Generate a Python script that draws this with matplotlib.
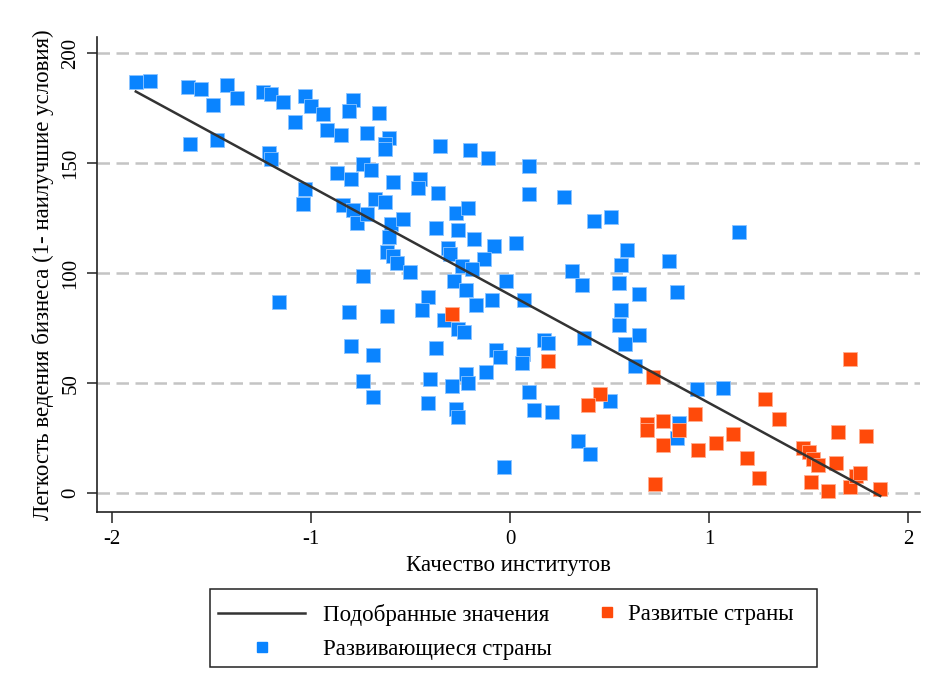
import numpy as np
import matplotlib.pyplot as plt
from matplotlib.patches import Rectangle

plt.rcParams['font.family'] = ['Liberation Serif', 'DejaVu Serif']

# Качество институтов / легкость ведения бизнеса: развивающиеся страны
dev_x = [-1.88, -1.81, -1.62, -1.55, -1.49, -1.42, -1.37, -1.61, -1.47, -1.24,
         -1.20, -1.14, -1.08, -1.21, -1.20, -1.16, -1.03, -1.00, -0.94, -1.03,
         -1.04, -0.92, -0.85, -0.79, -0.81, -0.72, -0.66, -0.61, -0.63, -0.63,
         -0.35, -0.20, -0.11, -0.87, -0.80, -0.74, -0.70, -0.59, -0.45, -0.46,
         -0.36, -0.84, -0.79, -0.77, -0.72, -0.68, -0.63, -0.60, -0.61, -0.54,
         -0.37, -0.27, -0.21, -0.26, -0.18, -0.08, -0.31, -0.30, -0.13, -0.62,
         -0.59, -0.57, -0.24, -0.19, -0.50, -0.74, 0.03, 0.095, 0.095, 0.27,
         0.42, 0.51, 0.59, 0.80, 0.56, 0.31, 1.15, -0.28, -0.22, -0.02,
         -0.41, -0.44, -0.17, -0.09, -0.33, -0.81, -0.62, -0.26, -0.23, -0.80,
         -0.69, -0.37, -0.07, -0.05, -0.12, -0.22, -0.21, -0.74, -0.40, -0.29,
         -0.69, -0.41, -0.27, -0.26, -0.03, 0.36, 0.55, 0.65, 0.84, 0.07,
         0.56, 0.55, 0.65, 0.58, 0.37, 0.17, 0.19, 0.065, 0.06, 0.63,
         0.94, 0.095, 0.12, 0.21, 0.50, 0.85, 0.84, 0.34, 0.40, 1.07]
dev_y = [186.8, 187.3, 184.6, 183.7, 176.4, 185.5, 179.6, 158.7, 160.5, 182.3,
         181.4, 177.8, 168.7, 154.6, 151.9, 87.1, 180.5, 176.0, 172.3, 138.3,
         131.5, 165.1, 162.8, 178.7, 173.7, 163.7, 172.8, 161.5, 158.7, 156.5,
         157.8, 156.0, 152.4, 145.6, 142.9, 149.7, 146.9, 141.5, 142.9, 138.8,
         136.5, 131.1, 128.8, 122.9, 127.0, 133.8, 132.4, 122.4, 116.6, 124.7,
         120.6, 127.4, 129.7, 119.7, 115.6, 112.5, 111.6, 108.8, 106.6, 109.8,
         107.9, 104.8, 103.4, 102.0, 100.5, 98.9, 114.0, 148.8, 136.0, 134.7,
         123.8, 125.6, 110.7, 105.7, 103.9, 101.2, 118.8, 96.6, 92.5, 96.6,
         89.3, 83.4, 85.7, 88.0, 78.9, 82.5, 80.7, 74.8, 73.5, 66.7,
         62.6, 65.8, 64.9, 61.7, 55.3, 54.4, 49.9, 50.8, 51.7, 48.5,
         43.5, 40.8, 38.1, 34.5, 11.8, 94.8, 95.7, 90.7, 91.6, 88.0,
         83.4, 76.6, 71.7, 68.0, 70.7, 69.8, 68.5, 63.5, 59.0, 57.6,
         47.2, 45.8, 37.6, 36.7, 41.7, 31.7, 24.9, 23.6, 17.7, 47.6]

# развитые страны
adv_x = [-0.29, 0.19, 0.72, 0.45, 0.39, 0.69, 0.69, 0.77, 0.85, 0.77,
         0.93, 0.945, 0.73, 1.71, 1.28, 1.35, 1.12, 1.035, 1.19, 1.25,
         1.47, 1.50, 1.52, 1.55, 1.51, 1.65, 1.64, 1.79, 1.60, 1.71,
         1.74, 1.76, 1.86]
adv_y = [81.6, 59.9, 52.6, 44.9, 39.9, 31.3, 28.6, 32.7, 28.6, 21.8,
         35.8, 19.5, 4.1, 60.8, 42.6, 33.6, 26.8, 22.7, 15.9, 6.8,
         20.4, 18.6, 15.4, 12.7, 5.0, 27.7, 13.6, 25.9, 1.0, 2.7,
         7.7, 9.1, 1.8]

# линейная регрессия (подобранные значения)
fit_intercept = 90.2
fit_slope = -49.2

xticks = [-2, -1, 0, 1, 2]
yticks = [0, 50, 100, 150, 200]

BLUE = '#0a84ff'
ORANGE = '#ff4a0a'
FS = 16.5

fig = plt.figure(figsize=(9.33, 6.91), dpi=100)
ax = fig.add_axes([97/933, 1 - 512/691, 823/933, 475/691])

for yv in yticks:
    ax.axhline(yv, color='#c4c4c4', lw=1.8, dashes=(5, 2.6), zorder=0)

all_x = np.array(dev_x + adv_x)
xs = np.array([all_x.min(), all_x.max()])
line, = ax.plot(xs, fit_intercept + fit_slope * xs, color='#333333', lw=1.8, zorder=3)

ax.scatter(dev_x, dev_y, marker='s', s=95, color=BLUE,
           edgecolors='#8cc4ff', linewidths=0.6, zorder=2)
ax.scatter(adv_x, adv_y, marker='s', s=95, color=ORANGE,
           edgecolors='#ffae90', linewidths=0.6, zorder=2)

ax.set_xlim(-2.075, 2.06)
ax.set_ylim(-8.6, 207.5)
ax.set_xticks(xticks)
ax.set_yticks(yticks)
ax.set_xticklabels([str(v) for v in xticks])
ax.set_yticklabels([str(v) for v in yticks], rotation=90, va='center')
ax.tick_params(axis='x', length=8, width=1.1, labelsize=15, pad=5, color='#222222')
ax.tick_params(axis='y', length=7, width=1.1, labelsize=15, pad=5, color='#222222')

for s in ['top', 'right']:
    ax.spines[s].set_visible(False)
for s in ['left', 'bottom']:
    ax.spines[s].set_linewidth(1.2)
    ax.spines[s].set_color('#222222')

ax.set_xlabel('Качество институтов', fontsize=FS, labelpad=4)
ax.set_ylabel('Легкость ведения бизнеса (1- наилучшие условия)', fontsize=FS, labelpad=5)

# легенда: общая рамка и две колонки без собственных рамок
fig.add_artist(Rectangle((210/933, 1 - 667/691), 607/933, 78/691,
                         transform=fig.transFigure, fill=False,
                         edgecolor='#222222', lw=1.1))

blue_h = plt.Line2D([], [], marker='s', ls='none', color=BLUE, markersize=7)
orange_h = plt.Line2D([], [], marker='s', ls='none', color=ORANGE, markersize=7)

fig.legend([line, blue_h], ['Подобранные значения', 'Развивающиеся страны'],
           loc='upper left', bbox_to_anchor=(210/933, 1 - 596/691),
           fontsize=FS, frameon=False, borderaxespad=0, borderpad=0.35,
           handlelength=3.8, handletextpad=0.8, labelspacing=0.55)
fig.legend([orange_h], ['Развитые страны'],
           loc='upper left', bbox_to_anchor=(589/933, 1 - 596/691),
           fontsize=FS, frameon=False, borderaxespad=0, borderpad=0.35,
           handlelength=0.9, handletextpad=0.45)

fig.savefig('out.png', dpi=100, facecolor='white')
